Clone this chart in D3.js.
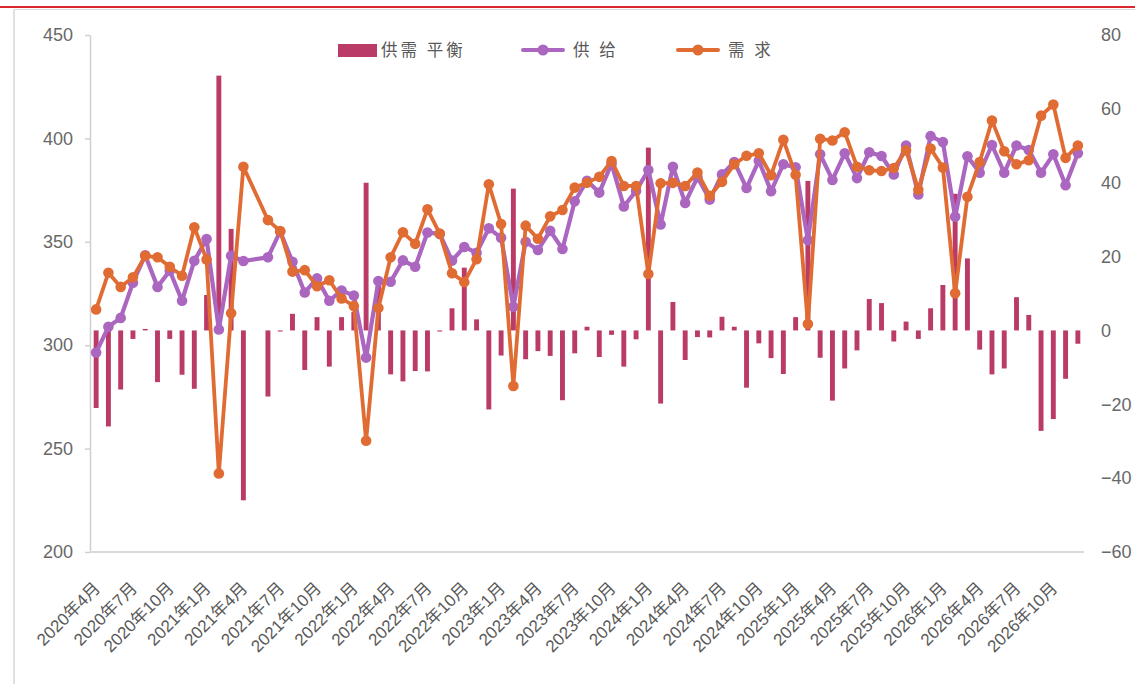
<!DOCTYPE html>
<html>
<head>
<meta charset="utf-8">
<script src="https://cdn.jsdelivr.net/npm/d3@7"></script>
<style>
  html, body { margin: 0; padding: 0; background: #ffffff; }
  svg { display: block; }
  .num { font-family: "Liberation Sans", Arial, "Noto Sans CJK SC", sans-serif; }
  .cjk { font-family: "Noto Sans CJK SC", "Noto Sans", sans-serif; }
</style>
</head>
<body>
<svg id="chart" width="1135" height="684"></svg>
<script>
// Monthly categories (2021年5月 has no data)
const months = [
  "2020年4月","2020年5月","2020年6月","2020年7月","2020年8月","2020年9月","2020年10月","2020年11月","2020年12月",
  "2021年1月","2021年2月","2021年3月","2021年4月","2021年5月","2021年6月","2021年7月","2021年8月","2021年9月","2021年10月","2021年11月","2021年12月",
  "2022年1月","2022年2月","2022年3月","2022年4月","2022年5月","2022年6月","2022年7月","2022年8月","2022年9月","2022年10月","2022年11月","2022年12月",
  "2023年1月","2023年2月","2023年3月","2023年4月","2023年5月","2023年6月","2023年7月","2023年8月","2023年9月","2023年10月","2023年11月","2023年12月",
  "2024年1月","2024年2月","2024年3月","2024年4月","2024年5月","2024年6月","2024年7月","2024年8月","2024年9月","2024年10月","2024年11月","2024年12月",
  "2025年1月","2025年2月","2025年3月","2025年4月","2025年5月","2025年6月","2025年7月","2025年8月","2025年9月","2025年10月","2025年11月","2025年12月",
  "2026年1月","2026年2月","2026年3月","2026年4月","2026年5月","2026年6月","2026年7月","2026年8月","2026年9月","2026年10月","2026年11月","2026年12月"
];

// Labelled categories on the x axis (every third month)
const tickLabels = [
  "2020年4月","2020年7月","2020年10月",
  "2021年1月","2021年4月","2021年7月","2021年10月",
  "2022年1月","2022年4月","2022年7月","2022年10月",
  "2023年1月","2023年4月","2023年7月","2023年10月",
  "2024年1月","2024年4月","2024年7月","2024年10月",
  "2025年1月","2025年4月","2025年7月","2025年10月",
  "2026年1月","2026年4月","2026年7月","2026年10月"
];

// 供给 (left axis)
const supply = [
  296.5, 308.9, 313.2, 330.2, 343.5, 328.2, 336.0, 321.5, 340.8,
  351.3, 307.6, 343.2, 340.7, null, 342.5, 355.0, 340.3, 325.5, 332.3, 321.5, 326.4,
  324.0, 294.0, 331.0, 330.7, 341.0, 337.9, 354.5, 353.8, 340.9, 347.5, 344.7, 356.5,
  352.0, 318.6, 350.0, 346.0, 355.3, 346.5, 369.6, 379.5, 373.8, 387.8, 367.1, 374.6,
  384.7, 358.4, 386.3, 368.8, 381.2, 370.4, 382.6, 388.6, 376.0, 389.2, 374.5, 387.5,
  386.0, 350.8, 392.3, 379.9, 392.8, 380.8, 393.3, 391.5, 382.6, 396.6, 372.9, 401.1,
  398.2, 362.1, 391.4, 383.4, 396.8, 383.4, 396.6, 394.4, 383.4, 392.3, 377.4, 392.8
];

// 需求 (left axis)
const demand = [
  317.3, 335.0, 328.2, 332.8, 343.2, 342.5, 337.9, 333.6, 357.0,
  341.5, 238.0, 315.4, 386.3, null, 360.5, 355.2, 335.6, 336.3, 328.5, 331.4, 322.6,
  319.0, 253.8, 318.0, 342.5, 354.6, 349.0, 365.7, 354.0, 334.8, 330.5, 341.6, 377.8,
  358.6, 280.3, 357.8, 351.5, 362.3, 365.4, 376.2, 378.6, 381.4, 389.1, 377.0, 377.0,
  334.4, 378.3, 378.5, 377.0, 383.5, 372.3, 379.0, 387.5, 391.6, 392.8, 382.2, 399.3,
  382.4, 310.2, 399.8, 399.0, 403.0, 386.3, 384.6, 384.2, 385.7, 394.2, 375.2, 395.1,
  385.9, 325.1, 371.8, 388.6, 408.6, 393.8, 387.5, 389.4, 411.0, 416.4, 390.6, 396.6
];

// 供需平衡 (right axis)
const balance = [
  -21.0, -26.0, -16.0, -2.3, 0.4, -14.0, -2.3, -12.0, -15.8,
  9.6, 69.0, 27.5, -46.0, null, -17.9, -0.3, 4.5, -10.7, 3.6, -9.8, 3.6,
  5.0, 40.0, 13.0, -11.9, -13.8, -11.0, -11.1, -0.3, 6.0, 17.0, 3.0, -21.4,
  -6.8, 38.4, -7.8, -5.6, -6.9, -18.9, -6.2, 1.0, -7.2, -1.2, -9.8, -2.4,
  49.5, -19.8, 7.7, -8.0, -1.8, -1.9, 3.7, 1.0, -15.5, -3.5, -7.5, -11.8,
  3.6, 40.5, -7.4, -19.0, -10.3, -5.4, 8.5, 7.4, -3.0, 2.4, -2.3, 6.0,
  12.3, 37.0, 19.5, -5.2, -11.9, -10.3, 9.0, 4.2, -27.2, -24.0, -13.1, -3.6
];

const leftTicks = [200, 250, 300, 350, 400, 450];
const rightTicks = [-60, -40, -20, 0, 20, 40, 60, 80];

const seriesNames = { balance: "供需 平衡", supply: "供 给", demand: "需 求" };
const colors = { balance: "#BA3B67", supply: "#AB66C0", demand: "#E06C34" };

const svg = d3.select("#chart");
const plot = { left: 90, right: 1084, top: 35, bottom: 552 };

// Page frame: red rule along the top, thin grey border lines
svg.append("line").attr("x1", 0).attr("x2", 1135).attr("y1", 7).attr("y2", 7)
  .attr("stroke", "#D9282D").attr("stroke-width", 2);
svg.append("line").attr("x1", 14).attr("x2", 1135).attr("y1", 9.5).attr("y2", 9.5)
  .attr("stroke", "#DADADA").attr("stroke-width", 1);
svg.append("line").attr("x1", 14).attr("x2", 14).attr("y1", 9.5).attr("y2", 684)
  .attr("stroke", "#D6D6D6").attr("stroke-width", 1.5);

const x = d3.scaleBand().domain(months)
  .range([plot.left, plot.right]).paddingInner(0.6).paddingOuter(0.3);
const cx = m => x(m) + x.bandwidth() / 2;
const yL = d3.scaleLinear().domain([200, 450]).range([plot.bottom, plot.top]);
const yR = d3.scaleLinear().domain([-60, 80]).range([plot.bottom, plot.top]);

// Left axis
const axL = svg.append("g").attr("transform", `translate(${plot.left},0)`)
  .call(d3.axisLeft(yL).tickValues(leftTicks).tickSize(5).tickSizeOuter(0).tickPadding(12));
axL.select(".domain").attr("stroke", "#D0D0D0").attr("stroke-width", 1.5);
axL.selectAll(".tick line").attr("stroke", "#D0D0D0").attr("stroke-width", 1.5);
axL.selectAll(".tick text").attr("class", "num").attr("font-size", 18).attr("fill", "#686868");

// Right axis (labels only)
const axR = svg.append("g").attr("transform", `translate(${plot.right},0)`)
  .call(d3.axisRight(yR).tickValues(rightTicks).tickSize(0).tickPadding(17));
axR.select(".domain").remove();
axR.selectAll(".tick text").attr("class", "num").attr("font-size", 18).attr("fill", "#686868");

// Category axis
svg.append("line").attr("x1", plot.left).attr("x2", plot.right)
  .attr("y1", plot.bottom).attr("y2", plot.bottom)
  .attr("stroke", "#D9D9D9").attr("stroke-width", 2);

const axB = svg.append("g").attr("transform", `translate(0,${plot.bottom})`)
  .call(d3.axisBottom(x).tickValues(tickLabels).tickSize(0).tickPadding(0));
axB.select(".domain").remove();
axB.selectAll(".tick text")
  .attr("class", "num")
  .attr("font-size", 17)
  .attr("fill", "#595959")
  .attr("text-anchor", "end")
  .attr("dy", "0.35em")
  .attr("transform", "translate(1,33) rotate(-45)");

// Balance bars
const barData = months.map((m, i) => ({ m, v: balance[i] })).filter(d => d.v != null);
svg.append("g").selectAll("rect").data(barData).join("rect")
  .attr("x", d => x(d.m))
  .attr("width", x.bandwidth())
  .attr("y", d => yR(Math.max(0, d.v)))
  .attr("height", d => Math.abs(yR(d.v) - yR(0)))
  .attr("fill", colors.balance);

// Lines with markers; the missing month is bridged
function drawSeries(values, color, width) {
  const pts = months.map((m, i) => ({ m, v: values[i] })).filter(d => d.v != null);
  const line = d3.line().x(d => cx(d.m)).y(d => yL(d.v));
  const g = svg.append("g");
  g.append("path").datum(pts).attr("d", line)
    .attr("fill", "none").attr("stroke", color).attr("stroke-width", width)
    .attr("stroke-linejoin", "round");
  g.selectAll("circle").data(pts).join("circle")
    .attr("cx", d => cx(d.m)).attr("cy", d => yL(d.v)).attr("r", 5.3)
    .attr("fill", color);
}
drawSeries(supply, colors.supply, 4.2);
drawSeries(demand, colors.demand, 3.8);

// Legend
const lg = svg.append("g").attr("class", "cjk");
lg.append("rect").attr("x", 338).attr("y", 44).attr("width", 39).attr("height", 13).attr("fill", colors.balance);
lg.append("text").attr("x", 381).attr("y", 50.5).attr("dy", "0.35em")
  .attr("font-size", 16.5).attr("letter-spacing", 3).attr("fill", "#595959").text(seriesNames.balance);

[[seriesNames.supply, colors.supply, 523], [seriesNames.demand, colors.demand, 678]].forEach(([name, c, x0]) => {
  lg.append("line").attr("x1", x0).attr("x2", x0 + 40).attr("y1", 50).attr("y2", 50)
    .attr("stroke", c).attr("stroke-width", 4).attr("stroke-linecap", "round");
  lg.append("circle").attr("cx", x0 + 20).attr("cy", 50).attr("r", 5.5).attr("fill", c);
  lg.append("text").attr("x", x0 + 50).attr("y", 50.5).attr("dy", "0.35em")
    .attr("font-size", 16.5).attr("letter-spacing", 3).attr("fill", "#595959").text(name);
});
</script>
</body>
</html>
